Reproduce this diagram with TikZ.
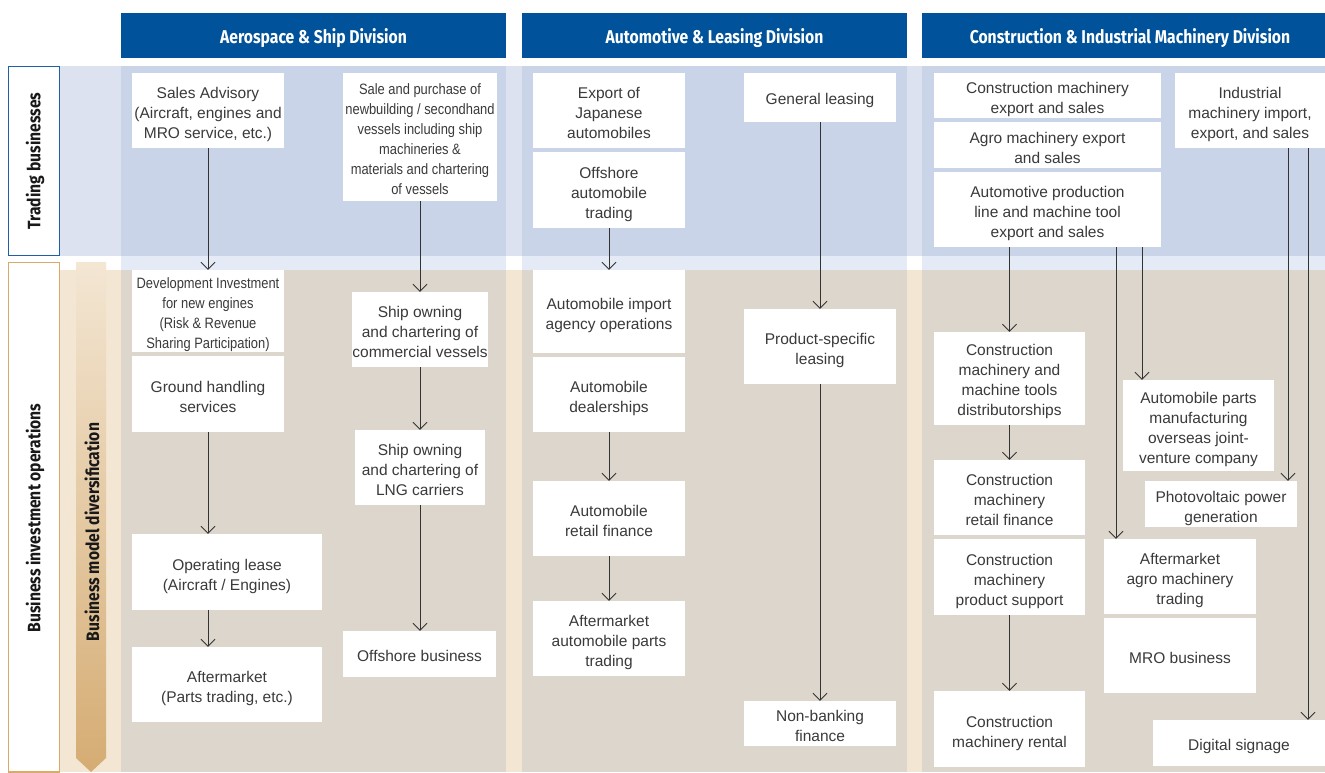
\documentclass[tikz,border=0pt]{standalone}
\usepackage{fontspec}
\setmainfont{Liberation Sans}
\newfontfamily\condfont[FakeStretch=0.86]{Liberation Sans}
\newfontfamily\hdrfont[FakeStretch=0.85]{Fira Sans}
\newfontfamily\sidefont[FakeStretch=0.87]{Fira Sans}
\usetikzlibrary{arrows.meta}
\newcommand\bt[2][-4pt]{\raisebox{#1}[\height][\depth]{\begin{tabular}{@{}c@{}}#2\end{tabular}}}
\definecolor{hdrblue}{HTML}{00529B}
\definecolor{trcol}{HTML}{C9D4E9}
\definecolor{trgut}{HTML}{DCE2F0}
\definecolor{strip}{HTML}{E4EAF6}
\definecolor{bicol}{HTML}{DDD6CC}
\definecolor{bigut}{HTML}{F3E6D3}
\definecolor{tanbd}{HTML}{D9AA6C}
\definecolor{bluebd}{HTML}{1F5FA8}
\definecolor{txtc}{HTML}{3A3A3A}
\definecolor{linec}{HTML}{333333}
\definecolor{arrtop}{HTML}{F3E6D3}
\definecolor{arrmid}{HTML}{E2C296}
\definecolor{arrbot}{HTML}{D5AC73}
\begin{document}
\begin{tikzpicture}[x=1pt,y=-1pt,
  box/.style={fill=white, inner sep=0pt, align=center, text=txtc,
    font=\fontsize{15.5}{20}\selectfont},
  cbox/.style={box, font=\condfont\fontsize{15}{20}\selectfont},
  hdr/.style={text=white, font=\hdrfont\bfseries\fontsize{18.5}{20}\selectfont},
  sidelbl/.style={rotate=90, text=black!90, font=\sidefont\bfseries\fontsize{18}{20}\selectfont},
  arr/.style={draw=linec, line width=0.9pt, -{Straight Barb[length=7pt,width=14pt,line width=0.9pt]}}]
\useasboundingbox (0,0) rectangle (1325,772);
\fill[white] (0,0) rectangle (1325,772);
% headers
\fill[hdrblue] (121,13) rectangle (506,58);
\fill[hdrblue] (522,13) rectangle (907,58);
\fill[hdrblue] (922,13) rectangle (1325,58);
\node[hdr] (h1) at (313.5,38) {Aerospace \& Ship Division};
\node[hdr] (h2) at (714.5,38) {Automotive \& Leasing Division};
\node[hdr] (h3) at (1130,38) {Construction \& Industrial Machinery Division};
% trading band
\fill[trgut] (60,66) rectangle (1325,256);
\fill[trcol] (121,66) rectangle (506,256);
\fill[trcol] (522,66) rectangle (907,256);
\fill[trcol] (922,66) rectangle (1325,256);
% strip
\fill[strip] (121,256) rectangle (506,270);
\fill[strip] (522,256) rectangle (907,270);
\fill[strip] (922,256) rectangle (1325,270);
% business band
\fill[bigut] (60,270) rectangle (1325,772);
\fill[bicol] (121,270) rectangle (506,772);
\fill[bicol] (522,270) rectangle (907,772);
\fill[bicol] (922,270) rectangle (1325,772);
% left labels
\draw[bluebd, line width=1.2pt, fill=white] (8.6,66.6) rectangle (59.4,255.4);
\draw[tanbd, line width=1.2pt, fill=white] (8.6,262.6) rectangle (59.4,772);
\node[sidelbl] (lt) at (35,161) {Trading businesses};
\node[sidelbl] (lb) at (35,518) {Business investment operations};
\shade[top color=arrtop, middle color=arrmid, bottom color=arrbot]
  (76,262) -- (106,262) -- (106,758) -- (91,772) -- (76,758) -- cycle;
\node[sidelbl] (ld) at (92,532) {Business model diversification};
% Aerospace & Ship
\node[box, minimum width=152, minimum height=75] (sa) at (208,110.5) {\bt{Sales Advisory\\(Aircraft, engines and\\MRO service, etc.)}};
\node[cbox, minimum width=154, minimum height=128] (sp) at (420,137) {\bt[-3pt]{Sale and purchase of\\newbuilding / secondhand\\vessels including ship\\machineries \&\\materials and chartering\\of vessels}};
\node[cbox, minimum width=152, minimum height=82] (dev) at (208,311) {\bt[-3pt]{Development Investment\\for new engines\\(Risk \& Revenue\\Sharing Participation)}};
\node[box, minimum width=152, minimum height=76] (gh) at (208,394) {\bt{Ground handling\\services}};
\node[box, minimum width=190, minimum height=76] (ol) at (227,572) {\bt{Operating lease\\(Aircraft / Engines)}};
\node[box, minimum width=190, minimum height=75] (am) at (227,684.5) {\bt{Aftermarket\\(Parts trading, etc.)}};
\node[box, minimum width=130, minimum height=75] (so) at (420,329.5) {\bt{Ship owning\\and chartering of\\commercial vessels}};
\node[box, minimum width=130, minimum height=75] (lng) at (420,467.5) {\bt{Ship owning\\and chartering of\\LNG carriers}};
\node[box, minimum width=153, minimum height=46] (off) at (419.5,654) {\bt[-3pt]{Offshore business}};
% Automotive & Leasing
\node[box, minimum width=152, minimum height=75] (exp) at (609,110.5) {\bt{Export of\\Japanese\\automobiles}};
\node[box, minimum width=152, minimum height=76] (oat) at (609,190) {\bt{Offshore\\automobile\\trading}};
\node[box, minimum width=152, minimum height=83] (iao) at (609,311.5) {\bt{Automobile import\\agency operations}};
\node[box, minimum width=152, minimum height=75] (dl) at (609,394.5) {\bt{Automobile\\dealerships}};
\node[box, minimum width=152, minimum height=75] (rf) at (609,518.5) {\bt{Automobile\\retail finance}};
\node[box, minimum width=152, minimum height=75] (apt) at (609,638.5) {\bt{Aftermarket\\automobile parts\\trading}};
\node[box, minimum width=152, minimum height=49] (gl) at (820,97.5) {\bt[-3pt]{General leasing}};
\node[box, minimum width=152, minimum height=75] (psl) at (820,346.5) {\bt{Product-specific\\leasing}};
\node[box, minimum width=152, minimum height=45] (nbf) at (820,723.5) {\bt{Non-banking\\finance}};
% Construction & Industrial Machinery
\node[box, minimum width=227, minimum height=45] (cme) at (1047.5,95.5) {\bt{Construction machinery\\export and sales}};
\node[box, minimum width=227, minimum height=46] (ame) at (1047.5,145) {\bt{Agro machinery export\\and sales}};
\node[box, minimum width=227, minimum height=75] (apl) at (1047.5,209.5) {\bt{Automotive production\\line and machine tool\\export and sales}};
\node[box, minimum width=150, minimum height=75] (imi) at (1250,110.5) {\bt{Industrial\\machinery import,\\export, and sales}};
\node[box, minimum width=151, minimum height=93] (cmd) at (1009.5,378.5) {\bt[-3pt]{Construction\\machinery and\\machine tools\\distributorships}};
\node[box, minimum width=151, minimum height=75] (crf) at (1009.5,497.5) {\bt{Construction\\machinery\\retail finance}};
\node[box, minimum width=151, minimum height=76] (cps) at (1009.5,577) {\bt{Construction\\machinery\\product support}};
\node[box, minimum width=151, minimum height=76] (cmr) at (1009.5,729) {\bt{Construction\\machinery rental}};
\node[box, minimum width=151, minimum height=91] (jv) at (1198.5,425.5) {\bt{Automobile parts\\manufacturing\\overseas joint-\\venture company}};
\node[box, minimum width=152, minimum height=46] (pv) at (1221,504) {\bt{Photovoltaic power\\generation}};
\node[box, minimum width=152, minimum height=75] (aat) at (1180,576.5) {\bt{Aftermarket\\agro machinery\\trading}};
\node[box, minimum width=152, minimum height=75] (mro) at (1180,655.5) {\bt{MRO business}};
\node[box, minimum width=172, minimum height=46] (ds) at (1239,743) {\bt[-3pt]{Digital signage}};
% connectors
\draw[arr] (sa.south) -- (dev.north);
\draw[arr] (sp.south) -- (so.north);
\draw[arr] (gh.south) -- (gh.south |- ol.north);
\draw[arr] (ol.south -| gh.south) -- (am.north -| gh.south);
\draw[arr] (so.south) -- (lng.north);
\draw[arr] (lng.south) -- (lng.south |- off.north);
\draw[arr] (oat.south) -- (iao.north);
\draw[arr] (dl.south) -- (rf.north);
\draw[arr] (rf.south) -- (apt.north);
\draw[arr] (gl.south) -- (psl.north);
\draw[arr] (psl.south) -- (nbf.north);
\draw[arr] (apl.south -| cmd.north) -- (cmd.north);
\draw[arr] (cmd.south) -- (crf.north);
\draw[arr] (cps.south) -- (cmr.north);
\draw[arr] (apl.south -| 1116,0) -- (aat.north -| 1116,0);
\draw[arr] (apl.south -| 1142,0) -- (jv.north -| 1142,0);
\draw[arr] (imi.south -| 1288,0) -- (pv.north -| 1288,0);
\draw[arr] (imi.south -| 1308,0) -- (ds.north -| 1308,0);
\end{tikzpicture}
\end{document}
